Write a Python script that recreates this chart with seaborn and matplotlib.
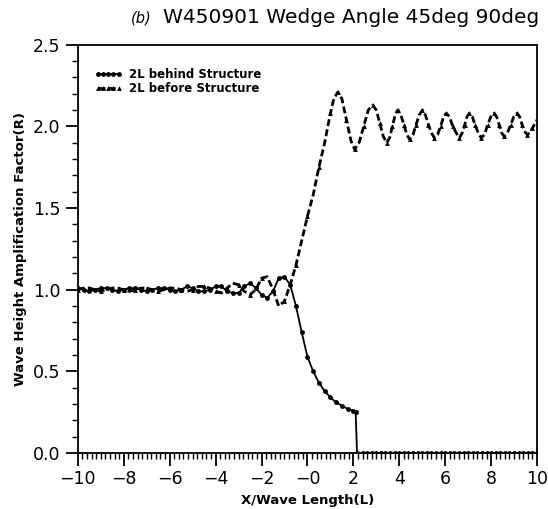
import numpy as np
import pandas as pd
import matplotlib
matplotlib.use("Agg")
import matplotlib.pyplot as plt
import seaborn as sns
from matplotlib.ticker import MultipleLocator, FixedLocator

# ---------------------------------------------------------------------------
# data
# ---------------------------------------------------------------------------
behind_x = [-10.0, -9.75, -9.5, -9.25, -9.0, -8.75, -8.5, -8.25, -8.0, -7.75,
            -7.5, -7.25, -7.0, -6.75, -6.5, -6.25, -6.0, -5.75, -5.5, -5.25,
            -5.0, -4.75, -4.5, -4.25, -4.0, -3.75, -3.5, -3.25, -3.0, -2.75,
            -2.5, -2.25, -2.0, -1.75, -1.5, -1.25, -1.0, -0.75, -0.5, -0.25,
            0.0, 0.25, 0.5, 0.75, 1.0, 1.25, 1.5, 1.75, 2.0, 2.1,
            2.16, 2.4, 2.6, 2.8, 3.0, 3.2, 3.4, 3.6, 3.8, 4.0,
            4.2, 4.4, 4.6, 4.8, 5.0, 5.2, 5.4, 5.6, 5.8, 6.0,
            6.2, 6.4, 6.6, 6.8, 7.0, 7.2, 7.4, 7.6, 7.8, 8.0,
            8.2, 8.4, 8.6, 8.8, 9.0, 9.2, 9.4, 9.6, 9.8, 10.0]
behind_y = [1.01, 1.00, 0.99, 1.00, 1.01, 1.01, 1.00, 0.99, 1.00, 1.01,
            1.01, 1.00, 0.99, 1.00, 1.01, 1.01, 1.00, 0.99, 1.00, 1.02,
            1.01, 0.99, 0.99, 1.00, 1.02, 1.02, 0.99, 0.98, 0.98, 1.02,
            1.04, 1.01, 0.97, 0.95, 0.99, 1.07, 1.08, 1.03, 0.90, 0.74,
            0.59, 0.50, 0.43, 0.38, 0.34, 0.31, 0.29, 0.27, 0.26, 0.25,
            0.00, 0.00, 0.00, 0.00, 0.00, 0.00, 0.00, 0.00, 0.00, 0.00,
            0.00, 0.00, 0.00, 0.00, 0.00, 0.00, 0.00, 0.00, 0.00, 0.00,
            0.00, 0.00, 0.00, 0.00, 0.00, 0.00, 0.00, 0.00, 0.00, 0.00,
            0.00, 0.00, 0.00, 0.00, 0.00, 0.00, 0.00, 0.00, 0.00, 0.00]

before_x = [-10.0, -9.75, -9.5, -9.25, -9.0, -8.75, -8.5, -8.25, -8.0, -7.75,
            -7.5, -7.25, -7.0, -6.75, -6.5, -6.25, -6.0, -5.75, -5.5, -5.25,
            -5.0, -4.75, -4.5, -4.25, -4.0, -3.75, -3.5, -3.25, -3.0, -2.75,
            -2.5, -2.25, -2.0, -1.75, -1.5, -1.25, -1.0, -0.75, -0.5, -0.25,
            0.0, 0.25, 0.5, 0.75, 1.0, 1.15, 1.32, 1.5, 1.7, 1.9,
            2.06, 2.25, 2.45, 2.65, 2.84, 3.0, 3.15, 3.3, 3.45, 3.58,
            3.7, 3.82, 3.93, 4.07, 4.2, 4.33, 4.45, 4.6, 4.73, 4.87,
            5.01, 5.14, 5.27, 5.4, 5.53, 5.67, 5.8, 5.93, 6.05, 6.19,
            6.33, 6.48, 6.62, 6.74, 6.85, 6.95, 7.05, 7.18, 7.3, 7.44,
            7.57, 7.71, 7.85, 7.99, 8.13, 8.24, 8.35, 8.46, 8.57, 8.71,
            8.85, 8.99, 9.13, 9.24, 9.35, 9.46, 9.57, 9.68, 9.8, 10.0]
before_y = [1.00, 1.01, 1.01, 1.00, 0.99, 1.00, 1.01, 1.01, 1.00, 0.99,
            1.00, 1.01, 1.01, 1.00, 0.99, 1.00, 1.01, 1.01, 1.00, 0.99,
            1.00, 1.02, 1.02, 1.01, 0.99, 0.98, 1.01, 1.04, 1.03, 0.99,
            0.97, 1.00, 1.07, 1.08, 1.00, 0.90, 0.93, 1.03, 1.15, 1.30,
            1.45, 1.58, 1.75, 1.90, 2.08, 2.17, 2.21, 2.17, 2.04, 1.91,
            1.86, 1.90, 2.00, 2.10, 2.13, 2.10, 2.02, 1.94, 1.90, 1.93,
            2.00, 2.07, 2.10, 2.07, 2.01, 1.95, 1.92, 1.95, 2.01, 2.07,
            2.10, 2.07, 2.01, 1.96, 1.93, 1.95, 2.00, 2.06, 2.08, 2.06,
            2.00, 1.96, 1.93, 1.96, 2.01, 2.06, 2.08, 2.06, 2.01, 1.96,
            1.93, 1.95, 2.01, 2.06, 2.08, 2.06, 2.01, 1.96, 1.94, 1.96,
            2.01, 2.06, 2.08, 2.06, 2.01, 1.97, 1.95, 1.96, 1.99, 2.04]

series_labels = ["2L behind Structure", "2L before Structure"]
x_ticks = [-10, -8, -6, -4, -2, 0, 2, 4, 6, 8, 10]
x_ticklabels = ["\u221210", "\u22128", "\u22126", "\u22124", "\u22122", "\u22120",
                "2", "4", "6", "8", "10"]
y_ticks = [0.0, 0.5, 1.0, 1.5, 2.0, 2.5]
y_ticklabels = ["0.0", "0.5", "1.0", "1.5", "2.0", "2.5"]

sns.set_theme(style="ticks")
plt.rcParams["font.family"] = ["DejaVu Sans"]
plt.rcParams.update({"text.color": "black", "axes.labelcolor": "black",
                     "xtick.color": "black", "ytick.color": "black"})

behind = pd.DataFrame({"x": behind_x, "R": behind_y})
before = pd.DataFrame({"x": before_x, "R": before_y})

fig = plt.figure(figsize=(5.48, 5.09), dpi=100)
ax = fig.add_axes([0.142, 0.110, 0.838, 0.802])

sns.lineplot(data=behind, x="x", y="R", ax=ax, color="black", lw=1.3,
             marker="o", markersize=3.5, markeredgewidth=0, estimator=None,
             sort=False, label=series_labels[0])
sns.lineplot(data=before, x="x", y="R", ax=ax, color="black", lw=2.0,
             linestyle=(0, (2.5, 1.2)), marker="^", markersize=3.5,
             markeredgewidth=0, markevery=2, estimator=None, sort=False,
             label=series_labels[1])

ax.set_xlim(-10, 10)
ax.set_ylim(0, 2.5)
ax.xaxis.set_major_locator(FixedLocator(x_ticks))
ax.set_xticklabels(x_ticklabels)
ax.xaxis.set_minor_locator(MultipleLocator(0.2))
ax.yaxis.set_major_locator(FixedLocator(y_ticks))
ax.set_yticklabels(y_ticklabels)
ax.yaxis.set_minor_locator(MultipleLocator(0.1))
ax.tick_params(which="major", direction="out", length=9, width=1.3,
               labelsize=12.5, color="black", labelcolor="black")
ax.tick_params(which="minor", direction="out", length=4, width=1.0,
               color="black")
for sp in ax.spines.values():
    sp.set_visible(True)
    sp.set_color("black")
    sp.set_linewidth(1.3)

ax.set_xlabel("X/Wave Length(L)", fontsize=9.5, fontweight="bold",
              color="black")
ax.set_ylabel("Wave Height Amplification Factor(R)", fontsize=9.5,
              fontweight="bold", color="black")

fig.text(0.238, 0.965, "(b)", fontsize=10.5, style="italic", ha="left",
         va="center", color="black")
fig.text(0.298, 0.965, "W450901 Wedge Angle 45deg 90deg", fontsize=14.5,
         ha="left", va="center", color="black")

ax.legend(loc="upper left", bbox_to_anchor=(0.025, 0.955), frameon=False,
          prop={"weight": "bold", "size": 8.5},
          handlelength=2.4, handletextpad=0.6, labelspacing=0.1,
          numpoints=5, borderaxespad=0, labelcolor="black")

fig.savefig("out.png", dpi=100)
